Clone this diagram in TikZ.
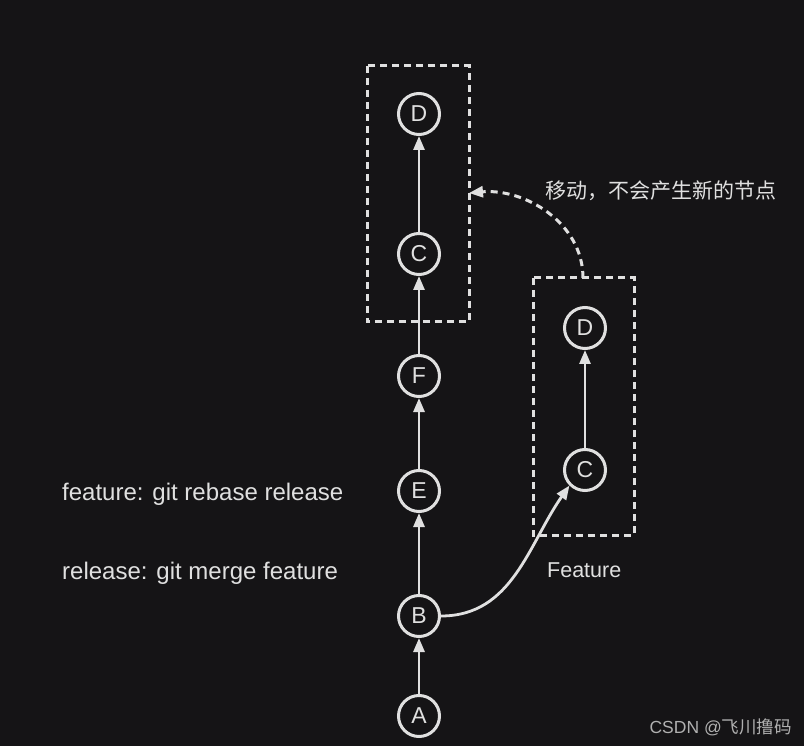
\documentclass[tikz,border=0pt]{standalone}
\usepackage{fontspec}
\setmainfont{Liberation Sans}
\newfontfamily\cjk{Noto Sans CJK SC}
\usetikzlibrary{arrows.meta}
\definecolor{bg}{HTML}{151416}
\definecolor{fg}{HTML}{E0E0E0}
\definecolor{wm}{HTML}{B0B0B0}
\tikzset{
  commit/.style={circle,draw=fg,line width=3pt,minimum size=41pt,inner sep=0pt,text=fg,font=\fontsize{23}{23}\selectfont},
  edge/.style={draw=fg,line width=2.8pt,-{Triangle[length=14pt,width=11pt]}},
  dbox/.style={draw=fg,line width=3pt,dash pattern=on 7pt off 5pt},
  lbl/.style={text=fg,font=\fontsize{24}{24}\selectfont,inner sep=0pt}
}
\begin{document}
\begin{tikzpicture}[x=1pt,y=-1pt]
\fill[bg] (0,0) rectangle (804,746);
\useasboundingbox (0,0) rectangle (804,746);
% boxes
\draw[dbox] (367,66) rectangle (469,322);
\draw[dbox] (533,278) rectangle (634,535);
\coordinate (rtop) at (583,278);
\coordinate (ledge) at (469,193);
% main column
\node[commit] (D1) at (419,114) {D};
\node[commit] (C1) at (419,254) {C};
\node[commit] (F) at (419,376) {F};
\node[commit] (E) at (419,491) {E};
\node[commit] (B) at (419,616) {B};
\node[commit] (A) at (419,716) {A};
% feature
\node[commit] (D2) at (585,328) {D};
\node[commit] (C2) at (585,470) {C};
\draw[edge] (A) -- (B);
\draw[edge] (B) -- (E);
\draw[edge] (E) -- (F);
\draw[edge] (F) -- (C1);
\draw[edge] (C1) -- (D1);
\draw[edge] (C2) -- (D2);
\draw[edge] (B.east) to[out=0,in=235] (C2.225);
\draw[draw=fg,line width=3pt,dash pattern=on 7pt off 5pt,-{Triangle[length=14pt,width=11pt]}] (rtop) to[out=90,in=5] (ledge);
% labels
\node[lbl,anchor=west,font=\fontsize{21}{21}\selectfont] (t1) at (545,191) {\cjk 移动，不会产生新的节点};
\node[lbl,anchor=west] (t2) at (62,494) {feature: git rebase release};
\node[lbl,anchor=west] (t3) at (62,573) {release: git merge feature};
\node[lbl,anchor=west,font=\fontsize{21.5}{21.5}\selectfont] (t4) at (547,570) {Feature};
\node[text=wm,anchor=east,inner sep=0pt,font=\fontsize{17.5}{17.5}\selectfont] (wmk) at (792,727) {CSDN @\cjk 飞川撸码};
\end{tikzpicture}
\end{document}
